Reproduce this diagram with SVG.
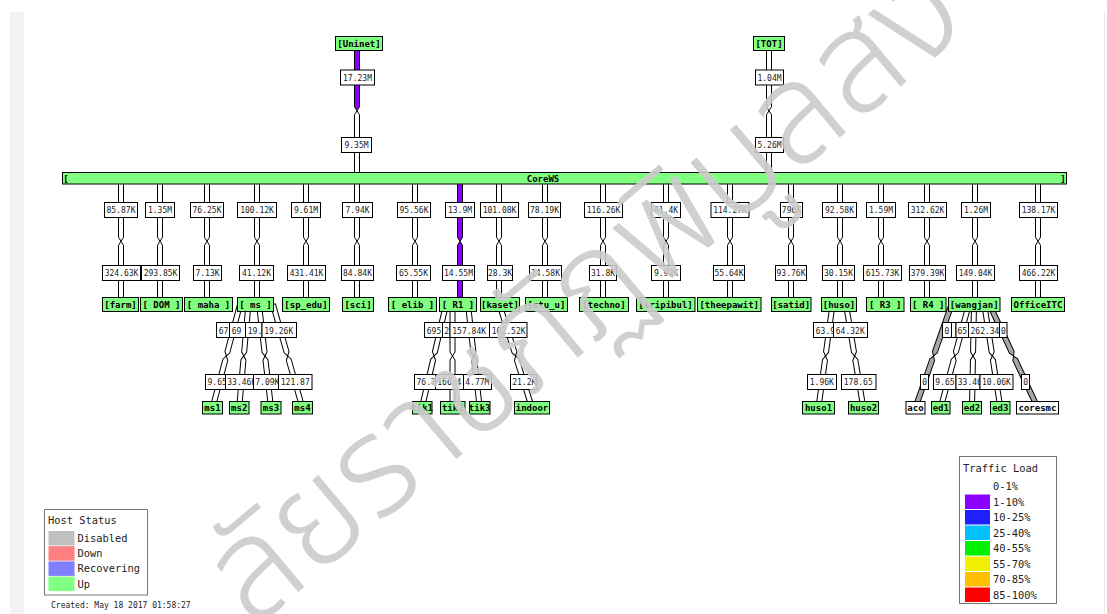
<svg xmlns="http://www.w3.org/2000/svg" width="1107" height="614" viewBox="0 0 1107 614">
<style>
.a{fill:#fff;stroke:#000;stroke-width:1}
.p{fill:#8c00ff}
.g{fill:#a8a8a8}
.lb{fill:#fff;stroke:#000;stroke-width:1}
.lt{font-family:"DejaVu Sans Mono",monospace;font-size:8px;fill:#222}
.lc{text-anchor:middle}
.n{fill:#80ff80;stroke:#000;stroke-width:1}
.nw{fill:#fff;stroke:#000;stroke-width:1}
.nt{font-family:"DejaVu Sans Mono",monospace;font-weight:bold;font-size:9px;fill:#000;text-anchor:middle;white-space:pre}
.kt{font-family:"DejaVu Sans Mono",monospace;font-size:10.4px;fill:#222}
.ct{font-family:"DejaVu Sans Mono",monospace;font-size:8px;fill:#222}
.box{fill:#fff;stroke:#777;stroke-width:1}
.wm{font-family:"Noto Sans Thai","Noto Sans","DejaVu Sans",sans-serif;font-size:140px;font-weight:300;fill:#cbcbcb;fill-opacity:0.9}
</style>
<defs>
<path id="vd" d="M0,-2.5H59.25L63.25,0L59.25,2.5H0Z"/>
<path id="td" d="M0,-2.5H63.25L67.25,0L63.25,2.5H0Z"/>
</defs>
<rect width="1107" height="614" fill="#fff"/>
<rect x="10" y="12" width="14" height="602" fill="#f2f2f2"/>
<rect x="1104" y="12" width="1" height="602" fill="#ececec"/>

<g id="connectors">
<use href="#td" class="a p" transform="translate(357,43.5) rotate(90)"/>
<use href="#td" class="a" transform="translate(357,178) rotate(-90)"/>
<use href="#td" class="a" transform="translate(769,43.5) rotate(90)"/>
<use href="#td" class="a" transform="translate(769,178) rotate(-90)"/>
<use href="#vd" class="a" transform="translate(121,178) rotate(90)"/><use href="#vd" class="a" transform="translate(121,304.5) rotate(-90)"/>
<use href="#vd" class="a" transform="translate(160,178) rotate(90)"/><use href="#vd" class="a" transform="translate(160,304.5) rotate(-90)"/>
<use href="#vd" class="a" transform="translate(207,178) rotate(90)"/><use href="#vd" class="a" transform="translate(207,304.5) rotate(-90)"/>
<use href="#vd" class="a" transform="translate(257,178) rotate(90)"/><use href="#vd" class="a" transform="translate(257,304.5) rotate(-90)"/>
<use href="#vd" class="a" transform="translate(306,178) rotate(90)"/><use href="#vd" class="a" transform="translate(306,304.5) rotate(-90)"/>
<use href="#vd" class="a" transform="translate(357,178) rotate(90)"/><use href="#vd" class="a" transform="translate(357,304.5) rotate(-90)"/>
<use href="#vd" class="a" transform="translate(415,178) rotate(90)"/><use href="#vd" class="a" transform="translate(415,304.5) rotate(-90)"/>
<use href="#vd" class="a p" transform="translate(460,178) rotate(90)"/><use href="#vd" class="a p" transform="translate(460,304.5) rotate(-90)"/>
<use href="#vd" class="a" transform="translate(499,178) rotate(90)"/><use href="#vd" class="a" transform="translate(499,304.5) rotate(-90)"/>
<use href="#vd" class="a" transform="translate(545,178) rotate(90)"/><use href="#vd" class="a" transform="translate(545,304.5) rotate(-90)"/>
<use href="#vd" class="a" transform="translate(603,178) rotate(90)"/><use href="#vd" class="a" transform="translate(603,304.5) rotate(-90)"/>
<use href="#vd" class="a" transform="translate(666,178) rotate(90)"/><use href="#vd" class="a" transform="translate(666,304.5) rotate(-90)"/>
<use href="#vd" class="a" transform="translate(730,178) rotate(90)"/><use href="#vd" class="a" transform="translate(730,304.5) rotate(-90)"/>
<use href="#vd" class="a" transform="translate(791,178) rotate(90)"/><use href="#vd" class="a" transform="translate(791,304.5) rotate(-90)"/>
<use href="#vd" class="a" transform="translate(840,178) rotate(90)"/><use href="#vd" class="a" transform="translate(840,304.5) rotate(-90)"/>
<use href="#vd" class="a" transform="translate(881,178) rotate(90)"/><use href="#vd" class="a" transform="translate(881,304.5) rotate(-90)"/>
<use href="#vd" class="a" transform="translate(927,178) rotate(90)"/><use href="#vd" class="a" transform="translate(927,304.5) rotate(-90)"/>
<use href="#vd" class="a" transform="translate(975,178) rotate(90)"/><use href="#vd" class="a" transform="translate(975,304.5) rotate(-90)"/>
<use href="#vd" class="a" transform="translate(1038,178) rotate(90)"/><use href="#vd" class="a" transform="translate(1038,304.5) rotate(-90)"/>
<path class="a" d="M0,-2.5H49.28L53.28,0L49.28,2.5H0Z" transform="translate(240,304.5) rotate(104.84)"/>
<path class="a" d="M0,-2.5H49.28L53.28,0L49.28,2.5H0Z" transform="translate(212.7,407.5) rotate(-75.16)"/>
<path class="a" d="M0,-2.5H47.71L51.71,0L47.71,2.5H0Z" transform="translate(248.4,304.5) rotate(95.1)"/>
<path class="a" d="M0,-2.5H47.71L51.71,0L47.71,2.5H0Z" transform="translate(239.2,407.5) rotate(-84.9)"/>
<path class="a" d="M0,-2.5H47.85L51.85,0L47.85,2.5H0Z" transform="translate(259,304.5) rotate(83.35)"/>
<path class="a" d="M0,-2.5H47.85L51.85,0L47.85,2.5H0Z" transform="translate(271,407.5) rotate(-96.65)"/>
<path class="a" d="M0,-2.5H49.54L53.54,0L49.54,2.5H0Z" transform="translate(273,304.5) rotate(74.12)"/>
<path class="a" d="M0,-2.5H49.54L53.54,0L49.54,2.5H0Z" transform="translate(302.3,407.5) rotate(-105.88)"/>
<path class="a" d="M0,-2.5H48.88L52.88,0L48.88,2.5H0Z" transform="translate(446,304.5) rotate(103.12)"/>
<path class="a" d="M0,-2.5H48.88L52.88,0L48.88,2.5H0Z" transform="translate(422,407.5) rotate(-76.88)"/>
<path class="a" d="M0,-2.5H47.5L51.5,0L47.5,2.5H0Z" transform="translate(452.5,304.5) rotate(90)"/>
<path class="a" d="M0,-2.5H47.5L51.5,0L47.5,2.5H0Z" transform="translate(452.5,407.5) rotate(-90)"/>
<path class="a" d="M0,-2.5H47.83L51.83,0L47.83,2.5H0Z" transform="translate(468,304.5) rotate(83.52)"/>
<path class="a" d="M0,-2.5H47.83L51.83,0L47.83,2.5H0Z" transform="translate(479.7,407.5) rotate(-96.48)"/>
<path class="a" d="M0,-2.5H49.97L53.97,0L49.97,2.5H0Z" transform="translate(499.5,304.5) rotate(72.59)"/>
<path class="a" d="M0,-2.5H49.97L53.97,0L49.97,2.5H0Z" transform="translate(531.8,407.5) rotate(-107.41)"/>
<path class="a" d="M0,-2.5H47.97L51.97,0L47.97,2.5H0Z" transform="translate(832.5,304.5) rotate(97.74)"/>
<path class="a" d="M0,-2.5H47.97L51.97,0L47.97,2.5H0Z" transform="translate(818.5,407.5) rotate(-82.26)"/>
<path class="a" d="M0,-2.5H48.22L52.22,0L48.22,2.5H0Z" transform="translate(846,304.5) rotate(80.47)"/>
<path class="a" d="M0,-2.5H48.22L52.22,0L48.22,2.5H0Z" transform="translate(863.3,407.5) rotate(-99.53)"/>
<path class="a g" d="M0,-2.5H50.55L54.55,0L50.55,2.5H0Z" transform="translate(951.5,304.5) rotate(109.26)"/>
<path class="a g" d="M0,-2.5H50.55L54.55,0L50.55,2.5H0Z" transform="translate(915.5,407.5) rotate(-70.74)"/>
<path class="a" d="M0,-2.5H49.37L53.37,0L49.37,2.5H0Z" transform="translate(968.8,304.5) rotate(105.21)"/>
<path class="a" d="M0,-2.5H49.37L53.37,0L49.37,2.5H0Z" transform="translate(940.8,407.5) rotate(-74.79)"/>
<path class="a" d="M0,-2.5H47.51L51.51,0L47.51,2.5H0Z" transform="translate(974,304.5) rotate(91.11)"/>
<path class="a" d="M0,-2.5H47.51L51.51,0L47.51,2.5H0Z" transform="translate(972,407.5) rotate(-88.89)"/>
<path class="a" d="M0,-2.5H48.12L52.12,0L48.12,2.5H0Z" transform="translate(984.3,304.5) rotate(81.17)"/>
<path class="a" d="M0,-2.5H48.12L52.12,0L48.12,2.5H0Z" transform="translate(1000.3,407.5) rotate(-98.83)"/>
<path class="a g" d="M0,-2.5H52.82L56.82,0L52.82,2.5H0Z" transform="translate(989.5,304.5) rotate(65.01)"/>
<path class="a g" d="M0,-2.5H52.82L56.82,0L52.82,2.5H0Z" transform="translate(1037.5,407.5) rotate(-114.99)"/>

<rect class="lb" x="340.5" y="70" width="34" height="15"/><text class="lt lc" x="357.5" y="80.5">17.23M</text>
<rect class="lb" x="341.5" y="137.5" width="30" height="15"/><text class="lt lc" x="356.5" y="148">9.35M</text>
<rect class="lb" x="755.5" y="70" width="28" height="15"/><text class="lt lc" x="769.5" y="80.5">1.04M</text>
<rect class="lb" x="755.5" y="137.5" width="28" height="15"/><text class="lt lc" x="769.5" y="148">5.26M</text>
<rect class="lb" x="104.5" y="202.5" width="33" height="15"/><text class="lt lc" x="121" y="213">85.87K</text>
<rect class="lb" x="145.5" y="202.5" width="29" height="15"/><text class="lt lc" x="160" y="213">1.35M</text>
<rect class="lb" x="190.5" y="202.5" width="33" height="15"/><text class="lt lc" x="207" y="213">76.25K</text>
<rect class="lb" x="237.5" y="202.5" width="39" height="15"/><text class="lt lc" x="257" y="213">100.12K</text>
<rect class="lb" x="291.5" y="202.5" width="29" height="15"/><text class="lt lc" x="306" y="213">9.61M</text>
<rect class="lb" x="342.5" y="202.5" width="30" height="15"/><text class="lt lc" x="357.5" y="213">7.94K</text>
<rect class="lb" x="397.5" y="202.5" width="33" height="15"/><text class="lt lc" x="414" y="213">95.56K</text>
<rect class="lb" x="445.5" y="202.5" width="29" height="15"/><text class="lt lc" x="460" y="213">13.9M</text>
<rect class="lb" x="480.5" y="202.5" width="38" height="15"/><text class="lt lc" x="499.5" y="213">101.08K</text>
<rect class="lb" x="528.5" y="202.5" width="32" height="15"/><text class="lt lc" x="544.5" y="213">78.19K</text>
<rect class="lb" x="584.5" y="202.5" width="38" height="15"/><text class="lt lc" x="603.5" y="213">116.26K</text>
<rect class="lb" x="651.5" y="202.5" width="29" height="15"/><text class="lt lc" x="666" y="213">81.4K</text>
<rect class="lb" x="711" y="202.5" width="38" height="15"/><text class="lt lc" x="730" y="213">114.27K</text>
<rect class="lb" x="780.5" y="202.5" width="22" height="15"/><text class="lt lc" x="791.5" y="213">796K</text>
<rect class="lb" x="822.5" y="202.5" width="34" height="15"/><text class="lt lc" x="839.5" y="213">92.58K</text>
<rect class="lb" x="866.5" y="202.5" width="29" height="15"/><text class="lt lc" x="881" y="213">1.59M</text>
<rect class="lb" x="908.5" y="202.5" width="38" height="15"/><text class="lt lc" x="927.5" y="213">312.62K</text>
<rect class="lb" x="961.5" y="202.5" width="29" height="15"/><text class="lt lc" x="976" y="213">1.26M</text>
<rect class="lb" x="1019.5" y="202.5" width="38" height="15"/><text class="lt lc" x="1038.5" y="213">138.17K</text>
<rect class="lb" x="102.5" y="265.5" width="38" height="15"/><text class="lt lc" x="121.5" y="276">324.63K</text>
<rect class="lb" x="141.5" y="265.5" width="38" height="15"/><text class="lt lc" x="160.5" y="276">293.85K</text>
<rect class="lb" x="193.5" y="265.5" width="28" height="15"/><text class="lt lc" x="207.5" y="276">7.13K</text>
<rect class="lb" x="239.5" y="265.5" width="34" height="15"/><text class="lt lc" x="256.5" y="276">41.12K</text>
<rect class="lb" x="287.5" y="265.5" width="38" height="15"/><text class="lt lc" x="306.5" y="276">431.41K</text>
<rect class="lb" x="341.5" y="265.5" width="32" height="15"/><text class="lt lc" x="357.5" y="276">84.84K</text>
<rect class="lb" x="396.5" y="265.5" width="34" height="15"/><text class="lt lc" x="413.5" y="276">65.55K</text>
<rect class="lb" x="442.5" y="265.5" width="32" height="15"/><text class="lt lc" x="458.5" y="276">14.55M</text>
<rect class="lb" x="487.5" y="265.5" width="25" height="15"/><text class="lt lc" x="500" y="276">28.3K</text>
<rect class="lb" x="529.5" y="265.5" width="32" height="15"/><text class="lt lc" x="545.5" y="276">14.58K</text>
<rect class="lb" x="589.5" y="265.5" width="27" height="15"/><text class="lt lc" x="603" y="276">31.8K</text>
<rect class="lb" x="651.5" y="265.5" width="29" height="15"/><text class="lt lc" x="666" y="276">9.92K</text>
<rect class="lb" x="713.5" y="265.5" width="31" height="15"/><text class="lt lc" x="729" y="276">55.64K</text>
<rect class="lb" x="775.5" y="265.5" width="31" height="15"/><text class="lt lc" x="791" y="276">93.76K</text>
<rect class="lb" x="822.5" y="265.5" width="32" height="15"/><text class="lt lc" x="838.5" y="276">30.15K</text>
<rect class="lb" x="863.5" y="265.5" width="38" height="15"/><text class="lt lc" x="882.5" y="276">615.73K</text>
<rect class="lb" x="909.5" y="265.5" width="36" height="15"/><text class="lt lc" x="927.5" y="276">379.39K</text>
<rect class="lb" x="956.5" y="265.5" width="38" height="15"/><text class="lt lc" x="975.5" y="276">149.04K</text>
<rect class="lb" x="1019.5" y="265.5" width="38" height="15"/><text class="lt lc" x="1038.5" y="276">466.22K</text>
<rect class="lb" x="216.5" y="322.5" width="13" height="15"/><text class="lt" x="218.8" y="333.5">67.</text>
<rect class="lb" x="229.5" y="322.5" width="16" height="15"/><text class="lt" x="231.8" y="333.5">69</text>
<rect class="lb" x="245.5" y="322.5" width="16.5" height="15"/><text class="lt" x="247.8" y="333.5">19.</text>
<rect class="lb" x="262" y="322.5" width="34.5" height="15"/><text class="lt" x="264.3" y="333.5">19.26K</text>
<rect class="lb" x="424.5" y="322.5" width="18" height="15"/><text class="lt" x="426.8" y="333.5">695</text>
<rect class="lb" x="442.5" y="322.5" width="7.5" height="15"/><text class="lt" x="444.3" y="333.5">2</text>
<rect class="lb" x="450" y="322.5" width="39.5" height="15"/><text class="lt" x="452.3" y="333.5">157.84K</text>
<rect class="lb" x="489.5" y="322.5" width="37.5" height="15"/><text class="lt" x="491.8" y="333.5">102.52K</text>
<rect class="lb" x="813.5" y="322.5" width="20" height="15"/><text class="lt" x="815.8" y="333.5">63.9</text>
<rect class="lb" x="833.5" y="322.5" width="34" height="15"/><text class="lt" x="835.8" y="333.5">64.32K</text>
<rect class="lb" x="942.5" y="322.5" width="9" height="15"/><text class="lt" x="944.6" y="333.5">0</text>
<rect class="lb" x="951.5" y="322.5" width="4.5" height="15"/>
<rect class="lb" x="956" y="322.5" width="12.5" height="15"/><text class="lt" x="957.5" y="333.5">65</text>
<rect class="lb" x="968.5" y="322.5" width="31" height="15"/><text class="lt" x="970.5" y="333.5">262.34</text>
<rect class="lb" x="999.5" y="322.5" width="7.5" height="15"/><text class="lt" x="1001" y="333.5">0</text>
<rect class="lb" x="205.5" y="374.5" width="20" height="15"/><text class="lt" x="207.5" y="385">9.65</text>
<rect class="lb" x="225.5" y="374.5" width="28" height="15"/><text class="lt" x="227.3" y="385">33.46K</text>
<rect class="lb" x="253.5" y="374.5" width="25" height="15"/><text class="lt" x="255.3" y="385">7.09K</text>
<rect class="lb" x="278.5" y="374.5" width="33.5" height="15"/><text class="lt" x="280.8" y="385">121.87</text>
<rect class="lb" x="414.5" y="374.5" width="21" height="15"/><text class="lt" x="416.5" y="385">76.7</text>
<rect class="lb" x="435.5" y="374.5" width="28" height="15"/><text class="lt" x="437.3" y="385">166.4</text>
<rect class="lb" x="463.5" y="374.5" width="28" height="15"/><text class="lt" x="465.3" y="385">4.77M</text>
<rect class="lb" x="510.5" y="374.5" width="26.5" height="15"/><text class="lt" x="512.3" y="385">21.2K</text>
<rect class="lb" x="807.5" y="374.5" width="29" height="15"/><text class="lt" x="809.8" y="385">1.96K</text>
<rect class="lb" x="841.5" y="374.5" width="34.5" height="15"/><text class="lt" x="843.8" y="385">178.65</text>
<rect class="lb" x="920.5" y="374.5" width="8" height="15"/><text class="lt" x="922.2" y="385">0</text>
<rect class="lb" x="933.5" y="374.5" width="22.5" height="15"/><text class="lt" x="935.3" y="385">9.65</text>
<rect class="lb" x="956" y="374.5" width="24" height="15"/><text class="lt" x="957.8" y="385">33.46</text>
<rect class="lb" x="980" y="374.5" width="33" height="15"/><text class="lt" x="982" y="385">10.06K</text>
<rect class="lb" x="1021.5" y="374.5" width="8" height="15"/><text class="lt" x="1023.2" y="385">0</text>
</g>

<g id="CoreWS"><rect class="n" x="62.5" y="172.5" width="1004" height="11.5"/><text class="nt" x="66" y="181.5">[</text><text class="nt" x="543" y="181.5">CoreWS</text><text class="nt" x="1063" y="181.5">]</text></g>
<g id="Uninet"><rect class="n" x="335.5" y="36.5" width="47" height="14"/><text class="nt" x="359" y="46.8">[Uninet]</text></g>
<g id="TOT"><rect class="n" x="753.5" y="36.5" width="31" height="14"/><text class="nt" x="769" y="46.8">[TOT]</text></g>

<g id="farm"><rect class="n" x="102.5" y="297.5" width="36" height="14"/><text class="nt" x="120.5" y="307.8">[farm]</text></g>
<g id="DOM"><rect class="n" x="140.5" y="297.5" width="42" height="14"/><text class="nt" x="161.5" y="307.8">[ DOM ]</text></g>
<g id="maha"><rect class="n" x="184.5" y="297.5" width="48" height="14"/><text class="nt" x="208.5" y="307.8">[ maha ]</text></g>
<g id="ms"><rect class="n" x="237.5" y="297.5" width="36" height="14"/><text class="nt" x="255.5" y="307.8">[ ms ]</text></g>
<g id="sp_edu"><rect class="n" x="282.5" y="297.5" width="47" height="14"/><text class="nt" x="306" y="307.8">[sp_edu]</text></g>
<g id="sci"><rect class="n" x="342.5" y="297.5" width="31" height="14"/><text class="nt" x="358" y="307.8">[sci]</text></g>
<g id="elib"><rect class="n" x="388.5" y="297.5" width="48" height="14"/><text class="nt" x="412.5" y="307.8">[ elib ]</text></g>
<g id="R1"><rect class="n" x="439.5" y="297.5" width="37" height="14"/><text class="nt" x="458" y="307.8">[ R1 ]</text></g>
<g id="kaset"><rect class="n" x="480.5" y="297.5" width="39" height="14"/><text class="nt" x="500" y="307.8">[kaset]</text></g>
<g id="stu_u"><rect class="n" x="525.5" y="297.5" width="42" height="14"/><text class="nt" x="546.5" y="307.8">[stu_u]</text></g>
<g id="techno"><rect class="n" x="579.5" y="297.5" width="49" height="14"/><text class="nt" x="604" y="307.8">[techno]</text></g>
<g id="sripibul"><rect class="n" x="636.5" y="297.5" width="58.5" height="14"/><text class="nt" x="665.7" y="307.8">[sripibul]</text></g>
<g id="theepawit"><rect class="n" x="697.5" y="297.5" width="63.5" height="14"/><text class="nt" x="729.2" y="307.8">[theepawit]</text></g>
<g id="satid"><rect class="n" x="771.5" y="297.5" width="39.5" height="14"/><text class="nt" x="791.2" y="307.8">[satid]</text></g>
<g id="huso"><rect class="n" x="821.5" y="297.5" width="35" height="14"/><text class="nt" x="839" y="307.8">[huso]</text></g>
<g id="R3"><rect class="n" x="866.5" y="297.5" width="37.5" height="14"/><text class="nt" x="885.2" y="307.8">[ R3 ]</text></g>
<g id="R4"><rect class="n" x="910.5" y="297.5" width="35.5" height="14"/><text class="nt" x="928.2" y="307.8">[ R4 ]</text></g>
<g id="wangjan"><rect class="n" x="948.5" y="297.5" width="51.5" height="14"/><text class="nt" x="974.2" y="307.8">[wangjan]</text></g>
<g id="OfficeITC"><rect class="n" x="1011.5" y="297.5" width="53" height="14"/><text class="nt" x="1038" y="307.8">OfficeITC</text></g>

<g id="ms1"><rect class="n" x="202.5" y="401.5" width="20" height="12.5"/><text class="nt" x="212.5" y="411">ms1</text></g>
<g id="ms2"><rect class="n" x="229.5" y="401.5" width="19.5" height="12.5"/><text class="nt" x="239.2" y="411">ms2</text></g>
<g id="ms3"><rect class="n" x="261" y="401.5" width="20" height="12.5"/><text class="nt" x="271" y="411">ms3</text></g>
<g id="ms4"><rect class="n" x="292.5" y="401.5" width="20" height="12.5"/><text class="nt" x="302.5" y="411">ms4</text></g>
<g id="tik1"><rect class="n" x="412.5" y="401.5" width="19.5" height="12.5"/><text class="nt" x="422.2" y="411">tik1</text></g>
<g id="tik2"><rect class="n" x="440.5" y="401.5" width="24.5" height="12.5"/><text class="nt" x="452.8" y="411">tik2</text></g>
<g id="tik3"><rect class="n" x="469.5" y="401.5" width="20.5" height="12.5"/><text class="nt" x="479.7" y="411">tik3</text></g>
<g id="indoor"><rect class="n" x="514.5" y="401.5" width="35" height="12.5"/><text class="nt" x="532" y="411">indoor</text></g>
<g id="huso1"><rect class="n" x="802.5" y="401.5" width="32" height="12.5"/><text class="nt" x="818.5" y="411">huso1</text></g>
<g id="huso2"><rect class="n" x="848.5" y="401.5" width="30" height="12.5"/><text class="nt" x="863.5" y="411">huso2</text></g>
<g id="aco"><rect class="nw" x="906" y="401.5" width="19" height="12.5"/><text class="nt" x="915.5" y="411">aco</text></g>
<g id="ed1"><rect class="n" x="931.5" y="401.5" width="18.5" height="12.5"/><text class="nt" x="940.8" y="411">ed1</text></g>
<g id="ed2"><rect class="n" x="962.5" y="401.5" width="19" height="12.5"/><text class="nt" x="972" y="411">ed2</text></g>
<g id="ed3"><rect class="n" x="990.5" y="401.5" width="19.5" height="12.5"/><text class="nt" x="1000.3" y="411">ed3</text></g>
<g id="coresmc"><rect class="nw" x="1016.5" y="401.5" width="42" height="12.5"/><text class="nt" x="1037.5" y="411">coresmc</text></g>

<g id="legend-traffic">
<rect class="box" x="959.5" y="456.5" width="97" height="147"/>
<text class="kt" x="963" y="472">Traffic Load</text>
<text class="kt" x="993" y="490">0-1%</text>
<rect x="965" y="494.5" width="25" height="14.5" fill="#8c00ff"/><text class="kt" x="993" y="505.5">1-10%</text>
<rect x="965" y="510" width="25" height="14.5" fill="#2020ff"/><text class="kt" x="993" y="521">10-25%</text>
<rect x="965" y="525.5" width="25" height="14.5" fill="#00c0ff"/><text class="kt" x="993" y="536.5">25-40%</text>
<rect x="965" y="541" width="25" height="14.5" fill="#00f000"/><text class="kt" x="993" y="552">40-55%</text>
<rect x="965" y="556.5" width="25" height="14.5" fill="#f0f000"/><text class="kt" x="993" y="567.5">55-70%</text>
<rect x="965" y="572" width="25" height="14.5" fill="#ffc000"/><text class="kt" x="993" y="583">70-85%</text>
<rect x="965" y="587.5" width="25" height="14.5" fill="#ff0000"/><text class="kt" x="993" y="598.5">85-100%</text>
</g>
<g id="legend-host">
<rect class="box" x="44.5" y="509.5" width="103" height="85.5"/>
<text class="kt" x="48" y="523.5">Host Status</text>
<rect x="48.5" y="531" width="26" height="14.5" fill="#c0c0c0"/><text class="kt" x="77.5" y="542">Disabled</text>
<rect x="48.5" y="546.2" width="26" height="14.5" fill="#ff8080"/><text class="kt" x="77.5" y="557.2">Down</text>
<rect x="48.5" y="561.4" width="26" height="14.5" fill="#8080ff"/><text class="kt" x="77.5" y="572.4">Recovering</text>
<rect x="48.5" y="576.6" width="26" height="14.5" fill="#80ff80"/><text class="kt" x="77.5" y="587.6">Up</text>
</g>
<text class="ct" x="51" y="608">Created: May 18 2017 01:58:27</text>
<text class="wm" transform="translate(253,630) rotate(-40)">ลัยราชภัฏพิบูลสง</text>
</svg>
